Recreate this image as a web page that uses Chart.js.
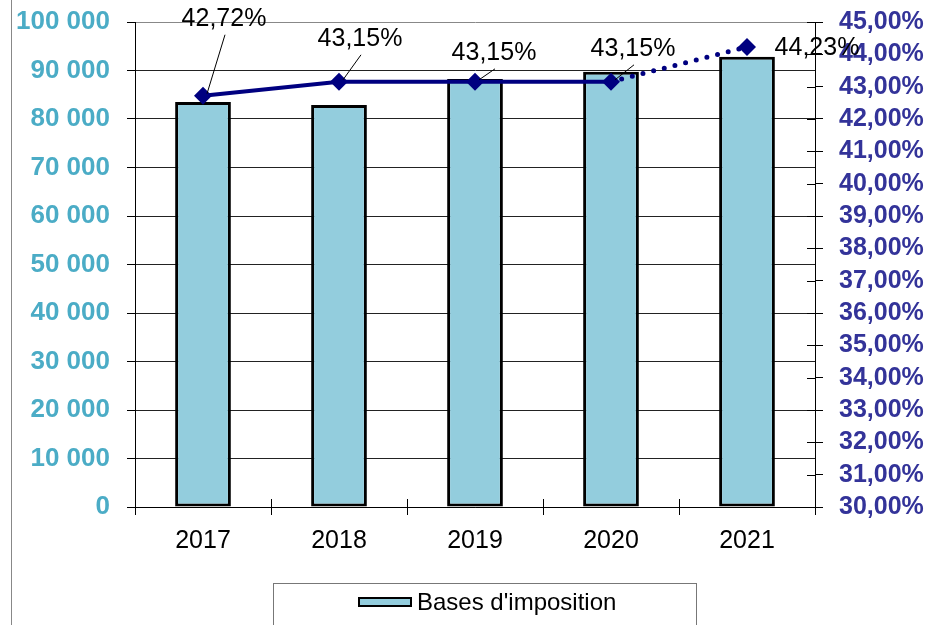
<!DOCTYPE html>
<html>
<head>
<meta charset="utf-8">
<script src="https://cdn.jsdelivr.net/npm/chart.js@4.4.1/dist/chart.umd.min.js"></script>
<style>
    html, body { margin: 0; padding: 0; background: #fff; }
    #wrap { position: relative; width: 933px; height: 625px; }
    #frame { position: absolute; left: 11px; top: 0; width: 0; height: 625px; border-left: 1px solid #888; }
</style>
</head>
<body>
<div id="wrap">
    <div id="frame"></div>
    <canvas id="chart"></canvas>
</div>
<script>
const annees = ['2017', '2018', '2019', '2020', '2021'];
const bases = [83500, 82900, 88250, 89750, 92850];
const taux = [42.72, 43.15, 43.15, 43.15, 44.23];
const tauxLabels = ['42,72%', '43,15%', '43,15%', '43,15%', '44,23%'];

const FONT = '"Liberation Sans", Arial, sans-serif';

// position des etiquettes par rapport au point (px)
const labelOffsets = [[21, -78], [21, -44], [19, -30], [22, -34], [70, 0]];
const labelLeader = [true, true, true, true, false];

function fmtMilliers(v) {
    return String(v).replace(/\B(?=(\d{3})+(?!\d))/g, ' ');
}

const extras = {
    id: 'extras',
    afterDraw(chart) {
        const ctx = chart.ctx;
        const area = chart.chartArea;
        const y1 = chart.scales.y1;

        ctx.save();
        ctx.strokeStyle = '#000';
        ctx.lineWidth = 1;
        // petites graduations vers l'interieur
        ctx.beginPath();
        for (let i = 0; i <= annees.length; i++) {
            const px = Math.round(area.left + i * (area.right - area.left) / annees.length) + 0.5;
            ctx.moveTo(px, area.bottom - 8);
            ctx.lineTo(px, area.bottom);
        }
        y1.ticks.forEach((t, i) => {
            const py = Math.round(y1.getPixelForTick(i)) + 0.5;
            ctx.moveTo(area.right - 8, py);
            ctx.lineTo(area.right, py);
        });
        ctx.stroke();

        // etiquettes du taux
        const meta = chart.getDatasetMeta(1);
        ctx.font = '25px ' + FONT;
        ctx.fillStyle = '#000';
        ctx.textAlign = 'center';
        ctx.textBaseline = 'middle';
        meta.data.forEach((pt, i) => {
            const lx = pt.x + labelOffsets[i][0];
            const ly = pt.y + labelOffsets[i][1];
            if (labelLeader[i]) {
                ctx.beginPath();
                ctx.moveTo(lx + 1, ly + 17);
                ctx.lineTo(pt.x + 4, pt.y - 2);
                ctx.stroke();
            }
            ctx.fillText(tauxLabels[i], lx, ly + 1);
        });

        // legende
        ctx.strokeStyle = '#777';
        ctx.lineWidth = 1;
        ctx.strokeRect(273.5, 583.5, 423, 60);
        ctx.fillStyle = '#93CDDD';
        ctx.fillRect(359, 598, 52, 8);
        ctx.strokeStyle = '#000';
        ctx.lineWidth = 2;
        ctx.strokeRect(359, 598, 52, 8);
        ctx.fillStyle = '#000';
        ctx.font = '24px ' + FONT;
        ctx.textAlign = 'left';
        ctx.fillText("Bases d'imposition", 417, 603);
        ctx.restore();
    }
};

function noOverflow(s) {
    s.paddingTop = 0;
    s.paddingBottom = 0;
}

new Chart(document.getElementById('chart'), {
    data: {
        labels: annees,
        datasets: [
            {
                type: 'bar',
                label: "Bases d'imposition",
                data: bases,
                yAxisID: 'y',
                backgroundColor: '#93CDDD',
                borderColor: '#000',
                borderWidth: 3,
                borderSkipped: false,
                categoryPercentage: 1,
                barPercentage: 0.41,
                order: 1
            },
            {
                type: 'line',
                label: 'Taux',
                data: taux,
                yAxisID: 'y1',
                borderColor: '#000080',
                backgroundColor: '#000080',
                borderWidth: 4,
                pointStyle: 'rectRot',
                pointRadius: 9,
                pointBorderWidth: 0,
                fill: false,
                tension: 0,
                order: 0,
                segment: {
                    borderDash: c => c.p0DataIndex === 3 ? [0, 11] : undefined,
                    borderCapStyle: c => c.p0DataIndex === 3 ? 'round' : 'butt',
                    borderWidth: c => c.p0DataIndex === 3 ? 5 : 4
                }
            }
        ]
    },
    options: {
        responsive: true,
        maintainAspectRatio: false,
        animation: false,
        layout: { padding: { top: 22, bottom: 58, left: 0, right: 0 } },
        plugins: {
            legend: { display: false },
            tooltip: { enabled: false }
        },
        scales: {
            x: {
                offset: true,
                grid: { offset: true, drawOnChartArea: false, tickLength: 8, color: '#000' },
                border: { color: '#000', width: 1 },
                ticks: { color: '#000', font: { family: FONT, size: 25 }, padding: 11 },
                afterFit(s) { s.height = 60; }
            },
            y: {
                position: 'left',
                min: 0,
                max: 100000,
                ticks: {
                    stepSize: 10000,
                    autoSkip: false,
                    color: '#4BACC6',
                    font: { family: FONT, size: 26, weight: 'bold' },
                    padding: 17,
                    callback: v => fmtMilliers(v)
                },
                grid: {
                    color: c => c.tick && c.tick.value === 100000 ? '#888' : '#222',
                    tickColor: '#000',
                    tickLength: 8,
                    lineWidth: 1
                },
                border: { color: '#000', width: 1 },
                afterFit(s) { s.width = 135; noOverflow(s); }
            },
            y1: {
                position: 'right',
                min: 30,
                max: 45,
                ticks: {
                    stepSize: 1,
                    autoSkip: false,
                    color: '#333399',
                    font: { family: FONT, size: 25, weight: 'bold' },
                    padding: 16,
                    callback: v => v.toFixed(2).replace('.', ',') + '%'
                },
                grid: { drawOnChartArea: false, tickLength: 8, color: '#000' },
                border: { color: '#000', width: 1 },
                afterFit(s) { s.width = 118; noOverflow(s); }
            }
        }
    },
    plugins: [extras]
});
</script>
</body>
</html>
